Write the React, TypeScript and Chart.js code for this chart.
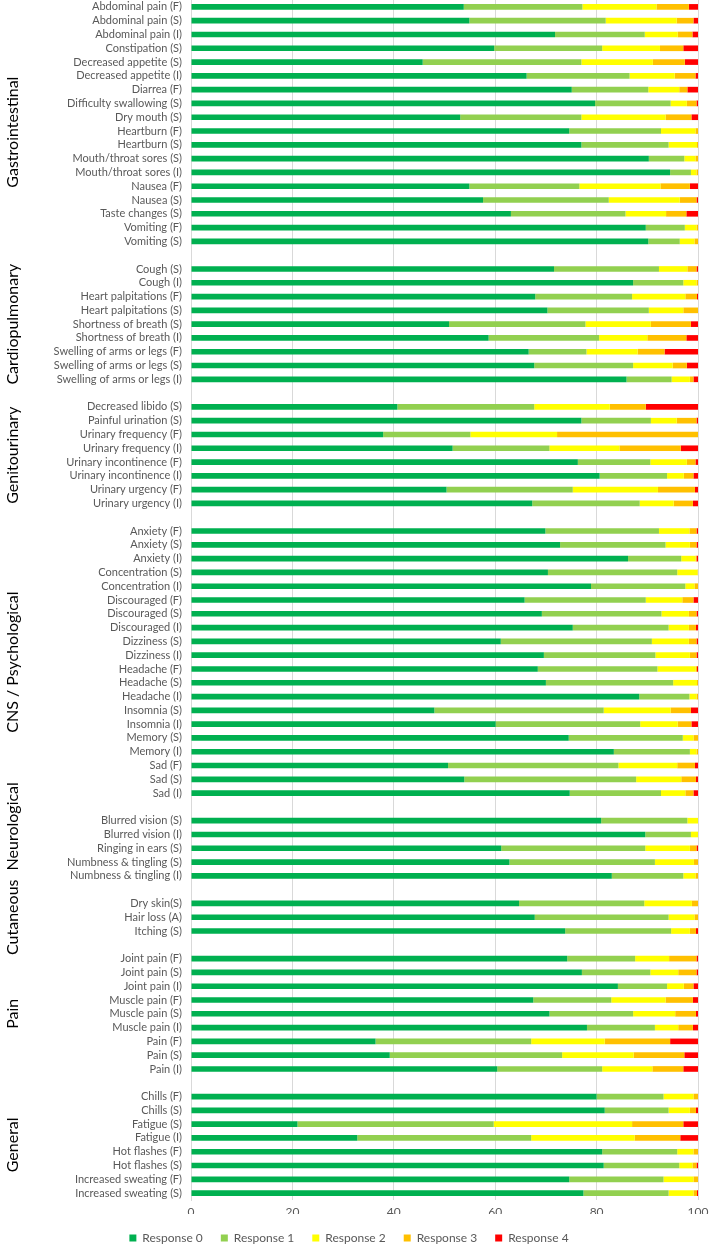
import React, { useEffect, useRef } from "react";
import { Chart, registerables } from "chart.js";

Chart.register(...registerables);

const GROUP_NAMES = [
  "Gastrointestinal",
  "Cardiopulmonary",
  "Genitourinary",
  "CNS / Psychological",
  "Neurological",
  "Cutaneous",
  "Pain",
  "General",
];

const GROUP_ITEMS: string[][] = [
  [
    "Abdominal pain (F)", "Abdominal pain (S)", "Abdominal pain (I)", "Constipation (S)",
    "Decreased appetite (S)", "Decreased appetite (I)", "Diarrea (F)", "Difficulty swallowing (S)",
    "Dry mouth (S)", "Heartburn (F)", "Heartburn (S)", "Mouth/throat sores (S)",
    "Mouth/throat sores (I)", "Nausea (F)", "Nausea (S)", "Taste changes (S)",
    "Vomiting (F)", "Vomiting (S)",
  ],
  [
    "Cough (S)", "Cough (I)", "Heart palpitations (F)", "Heart palpitations (S)",
    "Shortness of breath (S)", "Shortness of breath (I)", "Swelling of arms or legs (F)",
    "Swelling of arms or legs (S)", "Swelling of arms or legs (I)",
  ],
  [
    "Decreased libido (S)", "Painful urination (S)", "Urinary frequency (F)", "Urinary frequency (I)",
    "Urinary incontinence (F)", "Urinary incontinence (I)", "Urinary urgency (F)", "Urinary urgency (I)",
  ],
  [
    "Anxiety (F)", "Anxiety (S)", "Anxiety (I)", "Concentration (S)", "Concentration (I)",
    "Discouraged (F)", "Discouraged (S)", "Discouraged (I)", "Dizziness (S)", "Dizziness (I)",
    "Headache (F)", "Headache (S)", "Headache (I)", "Insomnia (S)", "Insomnia (I)",
    "Memory (S)", "Memory (I)", "Sad (F)", "Sad (S)", "Sad (I)",
  ],
  [
    "Blurred vision (S)", "Blurred vision (I)", "Ringing in ears (S)", "Numbness & tingling (S)",
    "Numbness & tingling (I)",
  ],
  ["Dry skin(S)", "Hair loss (A)", "Itching (S)"],
  [
    "Joint pain (F)", "Joint pain (S)", "Joint pain (I)", "Muscle pain (F)", "Muscle pain (S)",
    "Muscle pain (I)", "Pain (F)", "Pain (S)", "Pain (I)",
  ],
  [
    "Chills (F)", "Chills (S)", "Fatigue (S)", "Fatigue (I)", "Hot flashes (F)", "Hot flashes (S)",
    "Increased sweating (F)", "Increased sweating (S)",
  ],
];

const RESPONSE_0 = [
  53.8, 54.9, 71.8, 59.8, 45.7, 66.2, 75.1, 79.7, 53.1, 74.6, 77.0, 90.3, 94.5, 54.9, 57.6, 63.1, 89.7, 90.2,
  71.6, 87.2, 67.9, 70.3, 50.9, 58.7, 66.6, 67.7, 85.9,
  40.7, 77.0, 37.9, 51.6, 76.3, 80.6, 50.4, 67.3,
  69.9, 72.8, 86.2, 70.4, 78.9, 65.8, 69.2, 75.3, 61.1, 69.6, 68.4, 70.0, 88.4, 48.0, 60.1, 74.5, 83.4, 50.7, 53.9, 74.7,
  80.9, 89.6, 61.2, 62.8, 83.0,
  64.7, 67.8, 73.8,
  74.2, 77.1, 84.2, 67.5, 70.7, 78.1, 36.4, 39.2, 60.4,
  80.0, 81.6, 21.0, 32.8, 81.1, 81.4, 74.6, 77.4,
];
const RESPONSE_1 = [
  23.4, 26.9, 17.7, 21.3, 31.3, 20.3, 15.1, 14.9, 23.9, 18.1, 17.2, 7.0, 4.1, 21.7, 24.8, 22.6, 7.7, 6.2,
  20.7, 9.9, 19.1, 20.0, 26.9, 21.8, 11.4, 19.5, 8.9,
  27.0, 13.7, 17.2, 19.1, 14.3, 13.3, 24.9, 21.2,
  22.4, 20.8, 10.5, 25.5, 18.6, 23.9, 23.6, 18.9, 29.8, 22.0, 23.6, 25.1, 9.9, 33.4, 28.5, 22.5, 15.0, 33.6, 33.9, 18.0,
  17.0, 9.0, 28.4, 28.7, 14.1,
  24.7, 26.4, 20.9,
  13.4, 13.5, 9.7, 15.4, 16.5, 13.4, 30.7, 34.0, 20.7,
  13.2, 12.6, 38.7, 34.3, 14.8, 14.9, 18.6, 16.8,
];
const RESPONSE_2 = [
  14.6, 14.0, 6.5, 11.4, 14.1, 8.9, 6.1, 3.2, 16.6, 6.8, 5.6, 2.2, 1.1, 16.0, 14.0, 8.0, 2.3, 2.9,
  5.6, 2.6, 10.5, 6.8, 12.9, 9.5, 10.1, 7.8, 3.6,
  14.9, 5.1, 17.1, 13.8, 7.2, 3.3, 16.8, 6.7,
  6.0, 4.8, 2.8, 4.0, 1.8, 7.2, 5.4, 4.0, 7.3, 6.8, 7.5, 4.7, 1.4, 13.2, 7.4, 2.1, 1.3, 11.6, 8.9, 4.8,
  2.1, 1.4, 8.8, 7.7, 2.4,
  9.4, 5.1, 3.7,
  6.7, 5.5, 3.3, 10.7, 8.3, 4.6, 14.5, 14.1, 9.9,
  5.9, 4.2, 27.3, 20.4, 3.2, 2.6, 5.9, 4.9,
];
const RESPONSE_3 = [
  6.4, 3.3, 2.9, 4.6, 6.3, 4.1, 1.6, 1.9, 5.1, 0.5, 0.2, 0.5, 0.3, 5.8, 3.3, 4.0, 0.3, 0.7,
  1.8, 0.3, 2.3, 2.9, 7.9, 7.7, 5.3, 2.8, 0.7,
  7.1, 3.9, 27.8, 12.1, 1.7, 1.9, 7.3, 3.8,
  1.4, 1.3, 0.2, 0.1, 0.7, 2.2, 1.5, 1.4, 1.5, 1.3, 0.3, 0.2, 0.3, 4.0, 2.7, 0.9, 0.3, 3.5, 2.9, 1.6,
  0, 0, 1.3, 0.8, 0.5,
  1.2, 0.7, 1.2,
  5.4, 3.6, 1.9, 5.4, 4.1, 2.9, 12.9, 10.0, 6.1,
  0.9, 1.2, 10.1, 9.0, 0.9, 0.8, 0.9, 0.7,
];
const RESPONSE_4 = [
  1.9, 0.9, 1.1, 2.9, 2.6, 0.5, 2.1, 0.3, 1.3, 0, 0, 0, 0, 1.6, 0.3, 2.3, 0, 0,
  0.3, 0, 0.2, 0, 1.4, 2.3, 6.6, 2.2, 0.9,
  10.3, 0.3, 0, 3.4, 0.5, 0.9, 0.6, 1.0,
  0.3, 0.3, 0.3, 0, 0, 0.9, 0.3, 0.4, 0.3, 0.3, 0.2, 0, 0, 1.4, 1.3, 0, 0, 0.6, 0.4, 0.9,
  0, 0, 0.3, 0, 0,
  0, 0, 0.4,
  0.3, 0.3, 0.9, 1.0, 0.4, 1.0, 5.5, 2.7, 2.9,
  0, 0.4, 2.9, 3.5, 0, 0.3, 0, 0.2,
];

const SERIES_NAMES = ["Response 0", "Response 1", "Response 2", "Response 3", "Response 4"];
const SERIES_COLORS = ["#00B050", "#92D050", "#FFFF00", "#FFC000", "#FF0000"];
const X_TICKS = [0, 20, 40, 60, 80, 100];

const LABEL_FONT = "Lato";
// small vertical nudges (px) of the rotated group captions, as in the original
const GROUP_CAPTION_SHIFT = [8, 0, 0, 0, -22, 0, 0, 0];
const CAPTION_SIZE = 16;

const CANVAS_W = 709;
const CANVAS_H = 1254;

export default function App() {
  const canvasRef = useRef<HTMLCanvasElement | null>(null);

  useEffect(() => {
    const labels: string[] = [];
    const rowIndexMap: number[] = [];
    const groupRanges: { name: string; start: number; end: number; shift: number }[] = [];
    let dataIdx = 0;
    GROUP_ITEMS.forEach((items, g) => {
      if (g > 0) {
        labels.push("");
        rowIndexMap.push(-1);
      }
      const start = labels.length;
      items.forEach((it) => {
        labels.push(it);
        rowIndexMap.push(dataIdx++);
      });
      groupRanges.push({ name: GROUP_NAMES[g], start, end: labels.length - 1, shift: GROUP_CAPTION_SHIFT[g] });
    });

    const seriesArrays = [RESPONSE_0, RESPONSE_1, RESPONSE_2, RESPONSE_3, RESPONSE_4];
    const datasets = seriesArrays.map((arr, i) => ({
      label: SERIES_NAMES[i],
      data: rowIndexMap.map((k) => (k < 0 ? null : arr[k])),
      backgroundColor: SERIES_COLORS[i],
      borderWidth: 0,
      barPercentage: 0.41,
      categoryPercentage: 1,
    }));

    const groupLabelPlugin = {
      id: "groupLabels",
      afterDraw(chart: any) {
        const ys = chart.scales.y;
        const ctx = chart.ctx;
        ctx.save();
        ctx.fillStyle = "#000000";
        ctx.font = `${CAPTION_SIZE}px ${LABEL_FONT}`;
        ctx.textAlign = "center";
        ctx.textBaseline = "middle";
        groupRanges.forEach((gr) => {
          const yc = (ys.getPixelForValue(gr.start) + ys.getPixelForValue(gr.end)) / 2 + gr.shift;
          ctx.save();
          ctx.translate(13, yc);
          ctx.rotate(-Math.PI / 2);
          ctx.fillText(gr.name, 0, 0);
          ctx.restore();
        });
        ctx.restore();
      },
    };

    const chart = new Chart(canvasRef.current as HTMLCanvasElement, {
      type: "bar",
      data: { labels, datasets },
      options: {
        indexAxis: "y",
        animation: false,
        responsive: false,
        maintainAspectRatio: false,
        devicePixelRatio: 1,
        layout: { padding: { left: 0, right: 11, top: 0, bottom: 0 } },
        scales: {
          x: {
            stacked: true,
            min: 0,
            max: 100,
            afterBuildTicks: (scale: any) => {
              scale.ticks = X_TICKS.map((v) => ({ value: v }));
            },
            afterFit: (scale: any) => {
              scale.height = 14;
              scale.paddingLeft = 0;
              scale.paddingRight = 0;
            },
            grid: { color: "#D9D9D9", drawTicks: false, lineWidth: 1 },
            border: { display: false },
            ticks: {
              color: "#595959",
              font: { family: LABEL_FONT, size: 12 },
              padding: 5,
            },
          },
          y: {
            stacked: true,
            afterFit: (scale: any) => {
              scale.width = 191;
              scale.paddingTop = 0;
              scale.paddingBottom = 0;
            },
            grid: { display: false, drawTicks: false },
            border: { display: true, color: "#D9D9D9" },
            ticks: {
              color: "#595959",
              font: { family: LABEL_FONT, size: 11 },
              padding: 9,
              autoSkip: false,
            },
          },
        },
        plugins: {
          legend: {
            position: "bottom",
            labels: {
              boxWidth: 7,
              boxHeight: 7,
              color: "#595959",
              font: { family: LABEL_FONT, size: 12 },
              padding: 18,
            },
          },
          tooltip: { enabled: false },
        },
      },
      plugins: [groupLabelPlugin],
    });

    return () => chart.destroy();
  }, []);

  return (
    <div
      style={{
        position: "absolute",
        left: 0,
        top: 0,
        width: CANVAS_W,
        height: 1245,
        overflow: "hidden",
      }}
    >
      <canvas ref={canvasRef} width={CANVAS_W} height={CANVAS_H} style={{ display: "block" }} />
    </div>
  );
}
